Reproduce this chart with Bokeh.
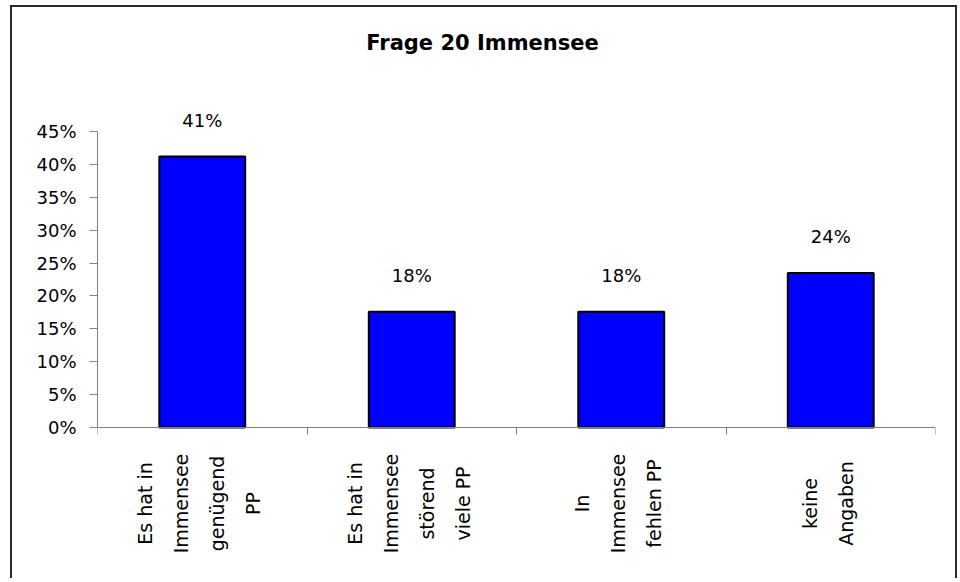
from bokeh.plotting import figure
from bokeh.models import ColumnDataSource, LabelSet, Label, FixedTicker, NumeralTickFormatter, Range1d
from bokeh.core.properties import value
from bokeh.embed import file_html
from bokeh.resources import INLINE

# ---- data ----
categories = ["Es hat in Immensee genügend PP",
              "Es hat in Immensee störend viele PP",
              "In Immensee fehlen PP",
              "keine Angaben"]
category_lines = [["Es hat in", "Immensee", "genügend", "PP"],
                  ["Es hat in", "Immensee", "störend", "viele PP"],
                  ["In", "Immensee", "fehlen PP"],
                  ["keine", "Angaben"]]
values = [0.412, 0.176, 0.176, 0.235]
value_labels = ["41%", "18%", "18%", "24%"]
y_ticks = [0.0, 0.05, 0.10, 0.15, 0.20, 0.25, 0.30, 0.35, 0.40, 0.45]
y_axis_max = 0.45
title_text = "Frage 20 Immensee"

FONT = "DejaVu Sans"
LINE_GAP = 36  # px between wrapped lines of a category label

# layout (pixels)
FRAME_TOP_PAD = 124     # px of frame above the 45% tick
FRAME_BOTTOM_PAD = 133  # px of frame below the 0% line
AXIS_HEIGHT = 296       # px from 0% to 45%
TITLE_ABOVE = 89        # px from the 45% tick up to the title centre
TITLE_X = 385           # px from the frame left to the title centre

n = len(categories)
xs = [i + 0.5 for i in range(n)]
ppu = AXIS_HEIGHT / y_axis_max
y_lo = -FRAME_BOTTOM_PAD / ppu
y_hi = y_axis_max + FRAME_TOP_PAD / ppu

p = figure(width=947, height=573, output_backend="svg", toolbar_location=None,
           x_range=Range1d(0, n), y_range=Range1d(y_lo, y_hi),
           min_border_left=85, min_border_right=24, min_border_top=0, min_border_bottom=20)
p.styles = {"border-left": "2px solid #2a2a2a", "border-top": "2px solid #2a2a2a",
            "border-right": "2px solid #2a2a2a", "margin-left": "10px", "margin-top": "5px"}

p.outline_line_color = None
p.xgrid.visible = False
p.ygrid.visible = False
p.background_fill_color = "white"
p.border_fill_color = "white"

p.add_layout(Label(x=TITLE_X, x_units="screen", y=y_axis_max + TITLE_ABOVE / ppu, y_units="data",
                   text=title_text, text_align="center", text_baseline="middle",
                   text_font=FONT, text_font_size="21px", text_font_style="bold",
                   text_color="black"))

src = ColumnDataSource(dict(x=xs, top=values, lab=value_labels))
p.vbar(x="x", top="top", width=0.41, bottom=0, source=src,
       fill_color="#0000FF", line_color="black", line_width=2)

p.add_layout(LabelSet(x="x", y="top", text="lab", source=src, y_offset=36,
                      text_align="center", text_baseline="middle",
                      text_font=value(FONT), text_font_size="18px", text_color="black"))

# category labels, rotated, one line per entry
lx, lo, lt = [], [], []
for i, lines in enumerate(category_lines):
    m = len(lines)
    for j, t in enumerate(lines):
        lx.append(xs[i])
        lo.append((j - (m - 1) / 2) * LINE_GAP - 3)
        lt.append(t)
csrc = ColumnDataSource(dict(x=lx, y=[0] * len(lx), xo=lo, t=lt))
p.add_layout(LabelSet(x="x", y="y", text="t", source=csrc, x_offset="xo", y_offset=-76,
                      angle=1.5707963267948966, text_align="center", text_baseline="middle",
                      text_font=value(FONT), text_font_size="19px", text_color="black"))

# axes
ax = p.xaxis[0]
ax.fixed_location = 0
ax.ticker = FixedTicker(ticks=list(range(n + 1)))
ax.major_label_overrides = {i: "" for i in range(n + 1)}
ax.major_tick_out = 7
ax.major_tick_in = 0
ax.minor_tick_line_color = None
ax.axis_line_color = "#808080"
ax.major_tick_line_color = "#808080"

ay = p.yaxis[0]
ay.bounds = (0, y_axis_max)
ay.ticker = FixedTicker(ticks=y_ticks)
ay.formatter = NumeralTickFormatter(format="0%")
ay.major_tick_out = 8
ay.major_tick_in = 0
ay.minor_tick_line_color = None
ay.axis_line_color = "#808080"
ay.major_tick_line_color = "#808080"
ay.major_label_text_font = FONT
ay.major_label_text_font_size = "18px"
ay.major_label_text_color = "black"
ay.major_label_standoff = 13

open("out.html", "w").write(file_html(p, INLINE))
